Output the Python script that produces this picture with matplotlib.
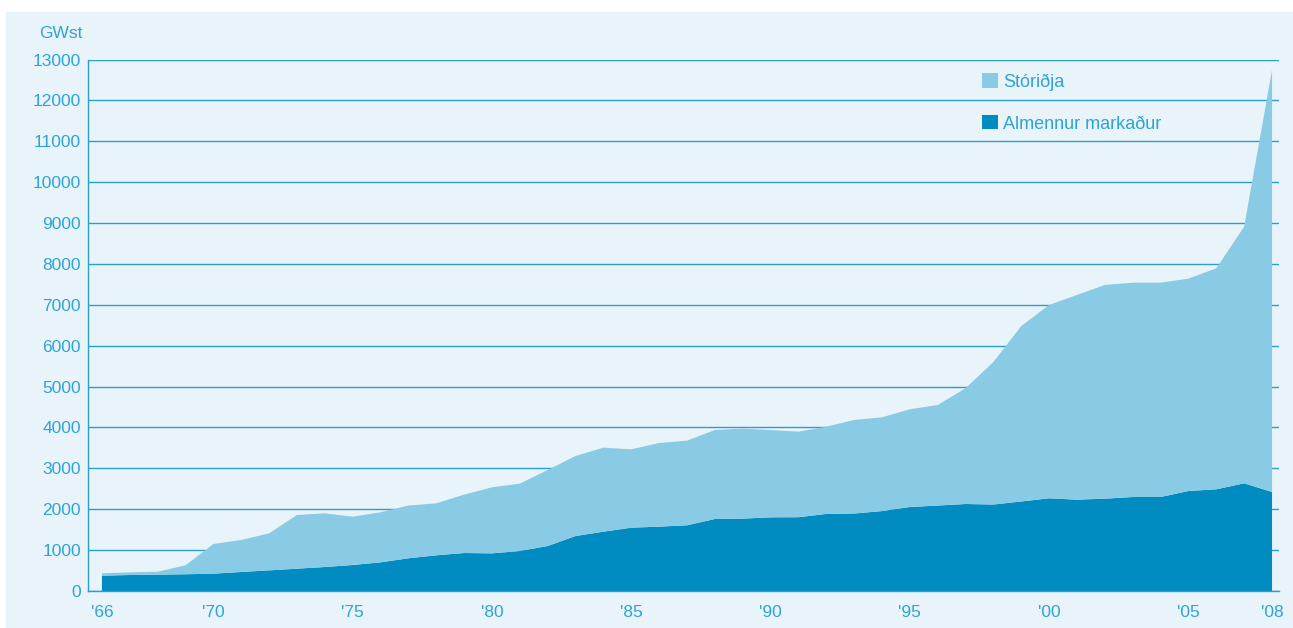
import matplotlib
matplotlib.use('Agg')
import matplotlib.pyplot as plt
from matplotlib.patches import Patch, Rectangle

# GWst per year
years = list(range(1966, 2009))
almennur = [375, 391, 400, 410, 424, 465, 505, 546, 587, 636,
            701, 800, 873, 929, 921, 978, 1101, 1345, 1451, 1549,
            1574, 1607, 1761, 1770, 1802, 1805, 1885, 1895, 1955, 2055,
            2090, 2128, 2115, 2190, 2267, 2234, 2258, 2299, 2299, 2446,
            2487, 2634, 2422]
storidja = [58, 66, 72, 218, 726, 783, 906, 1313, 1313, 1182,
            1224, 1290, 1272, 1428, 1615, 1648, 1859, 1957, 2055, 1917,
            2046, 2070, 2177, 2201, 2136, 2092, 2135, 2288, 2294, 2390,
            2460, 2832, 3487, 4292, 4729, 5007, 5227, 5243, 5243, 5194,
            5407, 6278, 10323]
xtick_years = [1966, 1970, 1975, 1980, 1985, 1990, 1995, 2000, 2005, 2008]
xtick_labels = ["'66", "'70", "'75", "'80", "'85", "'90", "'95", "'00", "'05", "'08"]
yticks = list(range(0, 13001, 1000))
labels = ['Stóriðja', 'Almennur markaður']

c_dark = '#008CC1'
c_light = '#89CBE5'
c_bg = '#E9F4FA'
c_line = '#2A9DD2'
c_text = '#2EA3D5'

plt.rcParams['font.family'] = ['Liberation Sans', 'DejaVu Sans']
fs = 12.5

fig = plt.figure(figsize=(12.93, 6.28), dpi=100)
bg = Rectangle((6 / 1293, 0), 1 - 6 / 1293, 1 - 12 / 628,
               transform=fig.transFigure, color=c_bg, zorder=-10)
fig.patches.append(bg)

ax = fig.add_axes([88 / 1293, 37 / 628, (1279 - 88) / 1293, (591 - 59.5) / 628])
ax.set_facecolor('none')
ax.set_zorder(2)

ax.stackplot(years, almennur, storidja, colors=[c_dark, c_light],
             linewidth=0, zorder=3)

ax.set_xlim(1965.5, 2008.25)
ax.set_ylim(0, 13000)
ax.set_yticks(yticks)
ax.set_yticklabels([str(v) for v in yticks])
ax.set_xticks(xtick_years)
ax.set_xticklabels(xtick_labels)

ax.grid(axis='y', color=c_line, linewidth=1.0, zorder=1)
ax.set_axisbelow(True)
for s in ['top', 'right']:
    ax.spines[s].set_visible(False)
for s in ['left', 'bottom']:
    ax.spines[s].set_color(c_line)
    ax.spines[s].set_linewidth(1.0)
    ax.spines[s].set_zorder(4)

ax.tick_params(axis='y', length=0, pad=5, labelsize=fs, labelcolor=c_text)
ax.tick_params(axis='x', length=0, pad=10, labelsize=fs, labelcolor=c_text)

fig.text(82 / 1293, 1 - 33 / 628, 'GWst', ha='right', va='center',
         fontsize=fs, color=c_text)

handles = [Patch(facecolor=c_light, edgecolor='none'),
           Patch(facecolor=c_dark, edgecolor='none')]
leg = ax.legend(handles, labels, loc='upper left',
                bbox_to_anchor=(966 / 1293, 1 - 57 / 628),
                bbox_transform=fig.transFigure, frameon=False,
                fontsize=13, handlelength=0.85, handleheight=0.85,
                handletextpad=0.3, labelspacing=1.35)
for t in leg.get_texts():
    t.set_color(c_text)

fig.savefig('out.png', dpi=100)
